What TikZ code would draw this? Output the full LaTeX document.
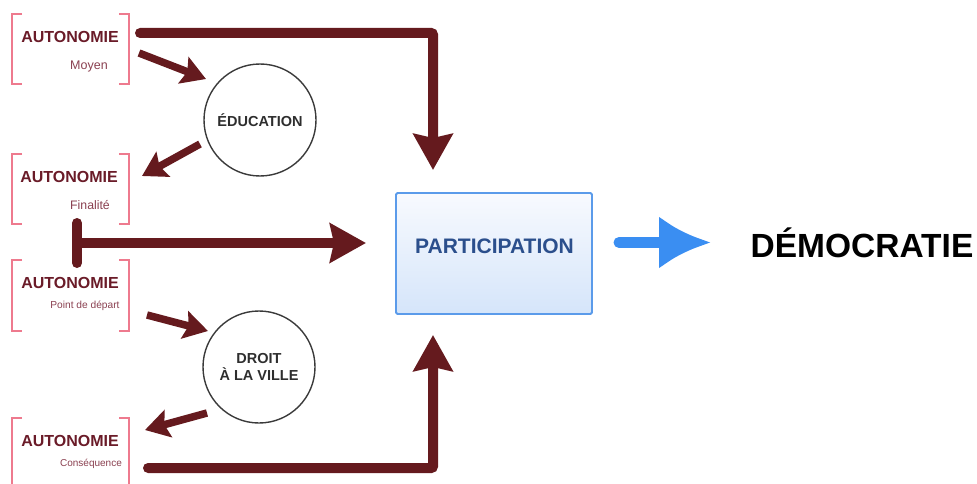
\documentclass[tikz,border=0pt]{standalone}
\usepackage{fontspec}
\setmainfont{Liberation Sans}
\usetikzlibrary{arrows.meta}
\definecolor{maroon}{HTML}{651A1E}
\definecolor{autotext}{HTML}{6A1B28}
\definecolor{subtext}{HTML}{8A4050}
\definecolor{brackpink}{HTML}{EE7A8E}
\definecolor{circgray}{HTML}{3A3A3A}
\definecolor{boxblue}{HTML}{5B9BEA}
\definecolor{parttextcol}{HTML}{2B4F8C}
\definecolor{arrowblue}{HTML}{3A8EF2}
\definecolor{boxbottom}{HTML}{D5E5FA}
\definecolor{boxtop}{HTML}{F8FAFE}
\tikzset{
  autolabel/.style={font=\fontsize{16}{18}\selectfont\bfseries, text=autotext, inner sep=0pt},
  sublabel/.style={text=subtext, inner sep=0pt},
  brk/.style={draw=brackpink, line width=1.5pt},
  bubble/.style={circle, draw=circgray, line width=1.4pt, minimum size=112pt, inner sep=0pt,
    font=\fontsize{14.5}{18}\selectfont\bfseries, text=circgray!80!black, align=center},
  bigarrow/.style={draw=maroon, line width=10pt, -{Stealth[length=36pt,width=39pt,inset=4pt]}, rounded corners=2pt},
  smallarrow/.style={draw=maroon, line width=7.5pt, -{Stealth[length=24pt,width=28pt,inset=4pt]}},
  partbox/.style={draw=boxblue, line width=1.8pt, rounded corners=1.5pt, top color=boxtop, bottom color=boxbottom,
    minimum width=196pt, minimum height=121pt, inner sep=0pt},
}
\begin{document}
\begin{tikzpicture}[x=1pt,y=-1pt]
\useasboundingbox (0,0) rectangle (977,484);

% brackets
\draw[brk] (22,14) -- (12,14) -- (12,84) -- (22,84);
\draw[brk] (119,14) -- (129,14) -- (129,84) -- (119,84);
\draw[brk] (22,154) -- (12,154) -- (12,224) -- (22,224);
\draw[brk] (119,154) -- (129,154) -- (129,224) -- (119,224);
\draw[brk] (22,260) -- (12,260) -- (12,331) -- (22,331);
\draw[brk] (119,260) -- (129,260) -- (129,331) -- (119,331);
\draw[brk] (22,418) -- (12,418) -- (12,490);
\draw[brk] (119,418) -- (129,418) -- (129,490);

% labels
\node[autolabel] (a1) at (70,37) {AUTONOMIE};
\node[sublabel, font=\fontsize{12.5}{14}\selectfont] (s1) at (89,66) {Moyen};
\node[autolabel] (a2) at (69,177) {AUTONOMIE};
\node[sublabel, font=\fontsize{12.3}{14}\selectfont] (s2) at (90,205) {Finalité};
\node[autolabel] (a3) at (70,283) {AUTONOMIE};
\node[sublabel, font=\fontsize{10.2}{12}\selectfont] (s3) at (85,306) {Point de départ};
\node[autolabel] (a4) at (70,441) {AUTONOMIE};
\node[sublabel, font=\fontsize{10}{12}\selectfont] (s4) at (91,464) {Conséquence};

% circles
\node[bubble] (educ) at (260,120) {ÉDUCATION};
\node[bubble] (droit) at (259,367) {DROIT\\[-1pt]À LA VILLE};

% participation
\node[partbox] (part) at (494,253.5) {};
\node[font=\fontsize{21}{24}\selectfont\bfseries, text=parttextcol, inner sep=0pt] (parttext) at (494.5,246) {PARTICIPATION};

% democratie
\node[font=\fontsize{33.5}{36}\selectfont\bfseries, inner sep=0pt] (demo) at (862,243) {DÉMOCRATIE};

% connector end points
\coordinate (topstart) at (140,33);
\coordinate (toptip) at (433,170);
\coordinate (botstart) at (148,468);
\coordinate (bottip) at (433,335);
\coordinate (midstart) at (77,243);
\coordinate (midtip) at (366,243);
\coordinate (m1) at (139,53);
\coordinate (m1tip) at (206,79);
\coordinate (e1) at (200,144);
\coordinate (e1tip) at (142,176);
\coordinate (p1) at (147,315);
\coordinate (p1tip) at (208,331);
\coordinate (d1) at (207,413);
\coordinate (d1tip) at (145,430);
\coordinate (bluestart) at (619,242.5);
\coordinate (bluetip) at (711,242.5);

% big maroon connectors
\draw[bigarrow, line cap=round] (topstart) -| (toptip);
\draw[bigarrow, line cap=round] (botstart) -| (bottip);
\draw[bigarrow] (midstart) -- (midtip);
\draw[maroon, line width=10pt, line cap=round] (77,223) -- (77,263);

% small maroon connectors
\draw[smallarrow] (m1) -- (m1tip);
\draw[smallarrow] (e1) -- (e1tip);
\draw[smallarrow] (p1) -- (p1tip);
\draw[smallarrow] (d1) -- (d1tip);

% blue arrow
\draw[arrowblue, line width=11pt, line cap=round, -{Latex[length=52pt,width=53pt]}] (bluestart) -- (bluetip);
\end{tikzpicture}
\end{document}
